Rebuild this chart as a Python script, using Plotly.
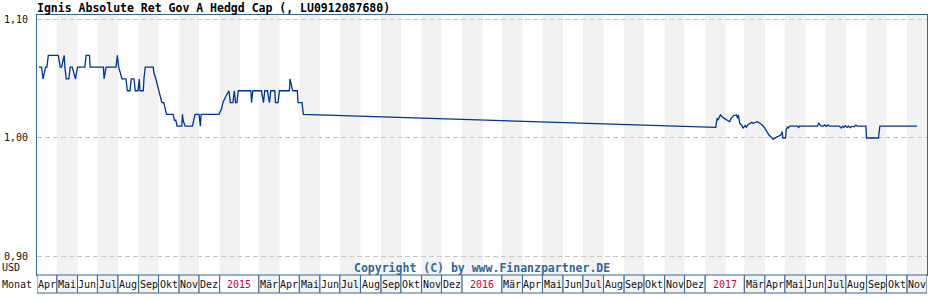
import plotly.graph_objects as go
import pandas as pd

# ---------------- data ----------------
title_text = "Ignis Absolute Ret Gov A Hedgd Cap (, LU0912087680)"
currency = "USD"
row_label = "Monat"
copyright_text = "Copyright (C) by www.Finanzpartner.DE"

month_names = ["Jan", "Feb", "Mär", "Apr", "Mai", "Jun",
               "Jul", "Aug", "Sep", "Okt", "Nov", "Dez"]
axis_start = "2014-04-01"
axis_end = "2017-12-01"
y_ticks = [0.90, 1.00, 1.10]
y_range = [0.8839, 1.1042]

dates = [
    "2014-04-04", "2014-04-08", "2014-04-10", "2014-04-12", "2014-04-14", "2014-04-16",
    "2014-04-18", "2014-05-03", "2014-05-04", "2014-05-06", "2014-05-08", "2014-05-10",
    "2014-05-12", "2014-05-13", "2014-05-15", "2014-05-19", "2014-05-21", "2014-05-24",
    "2014-05-26", "2014-05-29", "2014-06-01", "2014-06-12", "2014-06-14", "2014-06-19",
    "2014-06-20", "2014-07-10", "2014-07-11", "2014-07-14", "2014-07-29", "2014-07-31",
    "2014-08-02", "2014-08-05", "2014-08-07", "2014-08-13", "2014-08-15", "2014-08-19",
    "2014-08-21", "2014-08-25", "2014-08-27", "2014-08-31", "2014-09-02", "2014-09-03",
    "2014-09-08", "2014-09-09", "2014-09-11", "2014-09-23", "2014-09-24", "2014-09-27",
    "2014-10-01", "2014-10-03", "2014-10-06", "2014-10-09", "2014-10-11", "2014-10-13",
    "2014-10-23", "2014-10-25", "2014-10-27", "2014-10-29", "2014-11-05", "2014-11-06",
    "2014-11-07", "2014-11-10", "2014-11-21", "2014-11-23", "2014-11-25", "2014-12-01",
    "2014-12-03", "2014-12-04", "2014-12-31", "2015-01-04", "2015-01-06", "2015-01-10",
    "2015-01-15", "2015-01-17", "2015-01-21", "2015-01-23", "2015-01-25", "2015-01-27",
    "2015-01-29", "2015-02-17", "2015-02-18", "2015-02-20", "2015-03-05", "2015-03-08",
    "2015-03-10", "2015-03-14", "2015-03-17", "2015-03-19", "2015-03-25", "2015-03-26",
    "2015-03-30", "2015-04-01", "2015-04-16", "2015-04-17", "2015-04-19", "2015-04-21",
    "2015-04-28", "2015-04-29", "2015-05-05", "2015-05-07",
    "2017-01-17", "2017-01-19", "2017-01-20", "2017-01-22", "2017-01-24", "2017-01-28",
    "2017-02-02", "2017-02-07", "2017-02-09", "2017-02-13", "2017-02-17", "2017-02-19",
    "2017-02-20", "2017-02-22", "2017-02-25", "2017-02-27", "2017-03-02", "2017-03-04",
    "2017-03-06", "2017-03-09", "2017-03-12", "2017-03-14", "2017-03-17", "2017-03-21",
    "2017-03-24", "2017-03-28", "2017-04-01", "2017-04-03", "2017-04-07", "2017-04-10",
    "2017-04-13", "2017-04-17", "2017-04-21", "2017-04-25", "2017-04-27", "2017-04-28",
    "2017-05-02", "2017-05-03", "2017-05-05", "2017-05-06", "2017-05-08", "2017-05-20",
    "2017-05-22", "2017-05-23", "2017-06-19", "2017-06-21", "2017-06-24", "2017-06-27",
    "2017-06-30", "2017-07-02", "2017-07-05", "2017-07-07", "2017-07-22", "2017-07-25",
    "2017-07-27", "2017-07-29", "2017-07-31", "2017-08-03", "2017-08-05", "2017-08-08",
    "2017-08-10", "2017-08-13", "2017-08-16", "2017-08-18", "2017-08-31", "2017-09-01",
    "2017-09-19", "2017-09-21", "2017-11-16",
]

values = [
    1.06, 1.06, 1.05, 1.055, 1.06, 1.06,
    1.07, 1.07, 1.065, 1.06, 1.06, 1.065,
    1.07, 1.06, 1.05, 1.05, 1.06, 1.06,
    1.055, 1.05, 1.06, 1.06, 1.07, 1.07,
    1.06, 1.06, 1.05, 1.06, 1.06, 1.07,
    1.06, 1.055, 1.05, 1.05, 1.04, 1.04,
    1.05, 1.05, 1.04, 1.04, 1.05, 1.04,
    1.04, 1.05, 1.06, 1.06, 1.055, 1.05,
    1.04, 1.035, 1.03, 1.03, 1.025, 1.02,
    1.02, 1.015, 1.015, 1.01, 1.01, 1.02,
    1.015, 1.01, 1.01, 1.015, 1.02, 1.02,
    1.01, 1.02, 1.02, 1.025, 1.03, 1.035,
    1.04, 1.03, 1.03, 1.04, 1.03, 1.03,
    1.04, 1.04, 1.03, 1.04, 1.04, 1.03,
    1.04, 1.04, 1.03, 1.04, 1.04, 1.03,
    1.03, 1.04, 1.04, 1.05, 1.045, 1.04,
    1.04, 1.03, 1.03, 1.02,
    1.009, 1.0167, 1.015, 1.0172, 1.0195, 1.0172,
    1.0153, 1.0138, 1.0167, 1.019, 1.0195, 1.0167,
    1.0195, 1.0124, 1.011, 1.0082, 1.0105, 1.009,
    1.011, 1.0124, 1.0133, 1.0124, 1.0133, 1.0138,
    1.0124, 1.011, 1.0082, 1.0059, 1.0025, 1.0011,
    0.9989, 1.0003, 1.0011, 1.0025, 1.0054, 1.000,
    1.000, 1.0068, 1.0095, 1.0082, 1.01, 1.01,
    1.009, 1.01, 1.01, 1.0125, 1.0105, 1.01,
    1.0111, 1.0097, 1.0111, 1.01, 1.01, 1.0084,
    1.01, 1.009, 1.0105, 1.009, 1.01, 1.0087,
    1.01, 1.0095, 1.011, 1.01, 1.01, 1.00,
    1.00, 1.01, 1.01,
]

# ---------------- style ----------------
W, H = 928, 300
M_L, M_R, M_T, M_B = 37, 1, 15, 25
plot_h = H - M_T - M_B
plot_w = W - M_L - M_R
mono = "DejaVu Sans Mono"
frame_color = "#336699"
band_color = "#f2f2f2"
grid_color = "#c8c8c8"
line_color = "#003399"
year_color = "#cc0033"
text_color = "#111111"

row_bottom = -18 / plot_h          # month label row, 18 px tall below plot
row_mid = row_bottom / 2

fig = go.Figure()
fig.add_trace(go.Scatter(
    x=pd.to_datetime(dates), y=values, mode="lines",
    line=dict(color=line_color, width=1.3), hoverinfo="skip", showlegend=False,
))

months = pd.date_range(axis_start, axis_end, freq="MS")
shapes, annotations = [], []
for i, m in enumerate(months[:-1]):
    nxt = months[i + 1]
    odd = (m.month % 2 == 1)
    if odd:
        shapes.append(dict(type="rect", xref="x", yref="paper", x0=m, x1=nxt,
                           y0=0, y1=1, fillcolor=band_color, line_width=0, layer="below"))
    if m.month == 2:
        continue
    if m.month == 1:
        x1 = months[i + 2] if i + 2 < len(months) else nxt
        label, tcol, fill = str(m.year), year_color, "white"
    else:
        x1 = nxt
        label, tcol = month_names[m.month - 1], text_color
        fill = band_color if odd else "white"
    shapes.append(dict(type="rect", xref="x", yref="paper", x0=m, x1=x1,
                       y0=row_bottom, y1=0, fillcolor=fill,
                       line=dict(color=frame_color, width=1), layer="above"))
    annotations.append(dict(x=m + (x1 - m) / 2, y=row_mid, xref="x", yref="paper",
                            text=label, showarrow=False, xanchor="center", yanchor="middle",
                            font=dict(family=mono, size=10, color=tcol)))

# texts
annotations += [
    dict(x=0, y=1 + 7 / plot_h, xref="paper", yref="paper", xshift=-2,
         text=title_text, showarrow=False, xanchor="left", yanchor="middle",
         font=dict(family=mono, size=11.5, color="#000000", weight="bold")),
    dict(x=0.5, y=7 / plot_h, xref="paper", yref="paper", text=copyright_text,
         showarrow=False, xanchor="center", yanchor="middle",
         font=dict(family=mono, size=11.5, color=frame_color, weight="bold")),
    dict(x=-M_L / plot_w, y=8 / plot_h, xref="paper", yref="paper", text=currency,
         showarrow=False, xanchor="left", yanchor="middle",
         font=dict(family=mono, size=10, color=text_color)),
    dict(x=-M_L / plot_w, y=row_mid, xref="paper", yref="paper", text=row_label,
         showarrow=False, xanchor="left", yanchor="middle",
         font=dict(family=mono, size=10, color=text_color)),
]

fig.update_layout(
    width=W, height=H,
    margin=dict(l=M_L, r=M_R, t=M_T, b=M_B, pad=0),
    paper_bgcolor="white", plot_bgcolor="rgba(0,0,0,0)",
    separators=",.",
    shapes=shapes, annotations=annotations,
    showlegend=False, hovermode=False,
    xaxis=dict(type="date", range=[axis_start, axis_end], showgrid=False,
               showticklabels=False, ticks="", zeroline=False,
               showline=True, mirror=True, linecolor=frame_color, linewidth=1),
    yaxis=dict(range=y_range, tickvals=y_ticks, tickformat=".2f",
               showgrid=True, gridcolor=grid_color, gridwidth=1, griddash="5px,3px",
               zeroline=False, ticks="", ticklabelstandoff=6,
               tickfont=dict(family=mono, size=10, color=text_color),
               showline=True, mirror=True, linecolor=frame_color, linewidth=1),
)

fig.write_html("out.html")
